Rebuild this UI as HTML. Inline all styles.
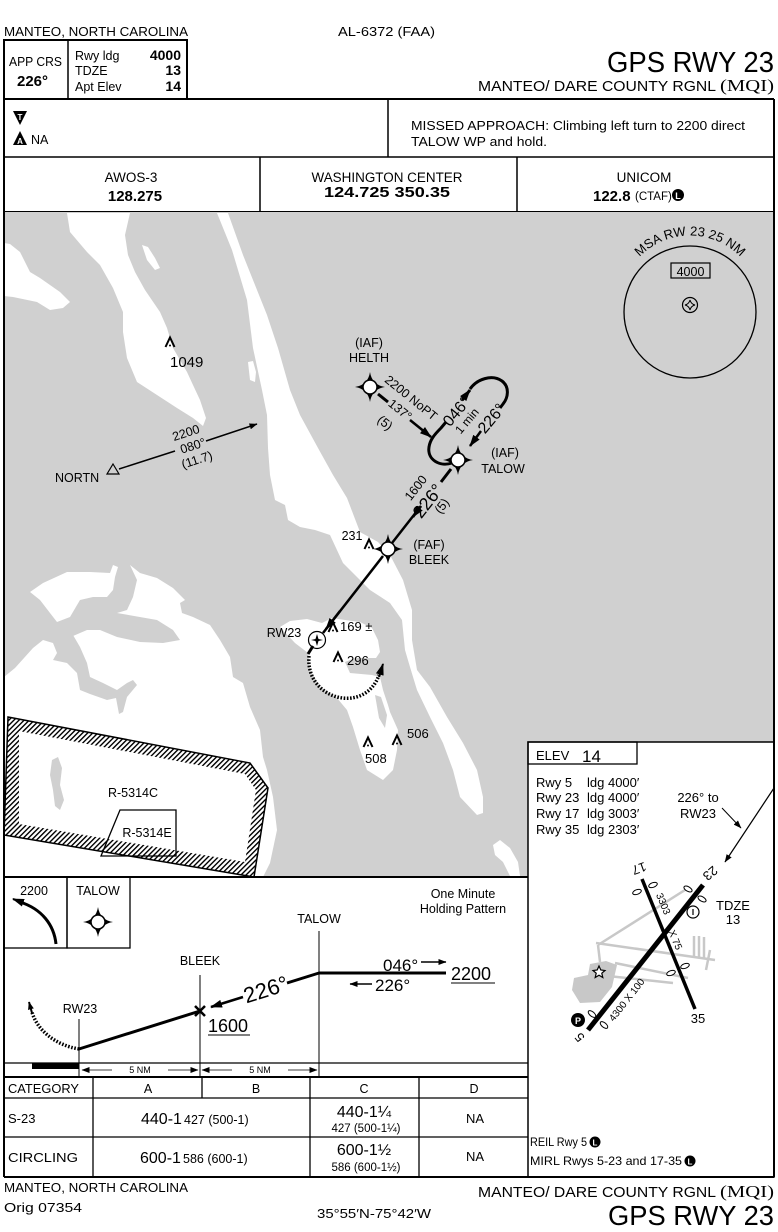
<!DOCTYPE html>
<html><head><meta charset="utf-8"><style>
html,body{margin:0;padding:0;background:#fff;}
svg{display:block;}
text{font-family:"Liberation Sans",sans-serif;fill:#000;}
</style></head><body>
<svg width="778" height="1232" viewBox="0 0 778 1232" xmlns="http://www.w3.org/2000/svg">
<defs>
<marker id="ah" markerUnits="userSpaceOnUse" markerWidth="12" markerHeight="8" refX="11" refY="4" orient="auto"><path d="M0,0 L12,4 L0,8 Z"/></marker>
<marker id="ahs" markerUnits="userSpaceOnUse" markerWidth="8" markerHeight="6" refX="7.5" refY="3" orient="auto"><path d="M0,0 L8,3 L0,6 Z"/></marker>
<pattern id="hatch" patternUnits="userSpaceOnUse" width="3.6" height="3.6" patternTransform="rotate(45)"><rect x="0" y="0" width="1.4" height="3.6" fill="#000"/></pattern>
<g id="fix"><path d="M0,-15 Q2,-2 15,0 Q2,2 0,15 Q-2,2 -15,0 Q-2,-2 0,-15Z"/><circle r="7" fill="#fff" stroke="#000" stroke-width="1.5"/></g>
<g id="obs"><path d="M-4.5,5 L0,-4.5 L4.5,5" fill="none" stroke="#000" stroke-width="2"/><circle cx="0" cy="3.5" r="1"/></g>
</defs>

<!-- HEADER -->
<text x="4" y="36" font-size="13" textLength="184" lengthAdjust="spacingAndGlyphs">MANTEO, NORTH CAROLINA</text>
<text x="338" y="36" font-size="13" textLength="97" lengthAdjust="spacingAndGlyphs">AL-6372 (FAA)</text>
<rect x="4" y="40" width="183" height="59" fill="none" stroke="#000" stroke-width="2"/>
<line x1="68" y1="40" x2="68" y2="99" stroke="#000" stroke-width="1.5"/>
<text x="9" y="66" font-size="12.5" textLength="53" lengthAdjust="spacingAndGlyphs">APP CRS</text>
<text x="17" y="86" font-size="15" font-weight="bold">226°</text>
<text x="75" y="60" font-size="12.5">Rwy ldg</text>
<text x="181" y="60" font-size="14" font-weight="bold" text-anchor="end">4000</text>
<text x="75" y="75" font-size="12.5">TDZE</text>
<text x="181" y="75" font-size="14" font-weight="bold" text-anchor="end">13</text>
<text x="75" y="91" font-size="12.5">Apt Elev</text>
<text x="181" y="91" font-size="14" font-weight="bold" text-anchor="end">14</text>
<text x="607" y="72" font-size="29" textLength="167" lengthAdjust="spacingAndGlyphs">GPS RWY 23</text>
<text x="478" y="91" font-size="15" textLength="238" lengthAdjust="spacingAndGlyphs">MANTEO/ DARE COUNTY RGNL</text>
<text x="720" y="91" font-size="17" style="font-family:'Liberation Serif',serif" textLength="54" lengthAdjust="spacingAndGlyphs">(MQI)</text>

<line x1="4" y1="99" x2="774" y2="99" stroke="#000" stroke-width="2"/>
<line x1="388" y1="99" x2="388" y2="157" stroke="#000" stroke-width="1.5"/>
<!-- T / A symbols -->
<path d="M13,111 L27,111 L20,125 Z"/>
<text x="20" y="120" font-size="8" font-weight="bold" text-anchor="middle" style="fill:#fff">T</text>
<path d="M13,145 L27,145 L20,131 Z"/>
<text x="20" y="144" font-size="8" font-weight="bold" text-anchor="middle" style="fill:#fff">A</text>
<text x="31" y="144" font-size="12.5">NA</text>
<text x="411" y="130" font-size="13" textLength="334" lengthAdjust="spacingAndGlyphs">MISSED APPROACH:  Climbing left turn to 2200 direct</text>
<text x="411" y="146" font-size="13" textLength="136" lengthAdjust="spacingAndGlyphs">TALOW WP and hold.</text>

<line x1="4" y1="157" x2="774" y2="157" stroke="#000" stroke-width="1.5"/>
<line x1="260" y1="157" x2="260" y2="212" stroke="#000" stroke-width="1.5"/>
<line x1="517" y1="157" x2="517" y2="212" stroke="#000" stroke-width="1.5"/>
<text x="131" y="182" font-size="13.5" text-anchor="middle">AWOS-3</text>
<text x="135" y="201" font-size="15" font-weight="bold" text-anchor="middle">128.275</text>
<text x="387" y="182" font-size="13.5" text-anchor="middle" textLength="151" lengthAdjust="spacingAndGlyphs">WASHINGTON CENTER</text>
<text x="387" y="197" font-size="15" font-weight="bold" text-anchor="middle" textLength="126" lengthAdjust="spacingAndGlyphs">124.725  350.35</text>
<text x="644" y="182" font-size="13.5" text-anchor="middle">UNICOM</text>
<text x="593" y="201" font-size="15" font-weight="bold">122.8</text>
<text x="635" y="200" font-size="11.5">(CTAF)</text>
<circle cx="678" cy="195" r="6"/>
<text x="678" y="199" font-size="9" font-weight="bold" text-anchor="middle" style="fill:#fff">L</text>
<line x1="4" y1="212" x2="774" y2="212" stroke="#000" stroke-width="2"/>

<!-- PLAN VIEW -->
<rect x="4" y="212" width="770" height="665" fill="#d0d0d0"/>
<g fill="#fff">
<polygon points="4,243 10,244 20,252 30,272 40,278 60,292 70,302 63,308 50,310 37,302 13,297 4,296"/>
<polygon points="67,213 70,232 87,252 100,265 113,288 123,312 123,332 127,358 137,382 157,395 177,408 193,418 203,426 206,418 200,400 193,385 187,372 173,348 167,328 160,312 145,290 135,272 128,255 125,235 130,213"/>
<polygon points="142,245 148,247 155,258 160,268 155,270 147,260"/>
<polygon points="248,362 253,361 256,372 255,382 250,380"/>
<polygon points="217,213 232,250 247,300 253,348 262,390 267,415 268,448 270,475 275,500 285,505 288,520 300,527 315,530 330,535 343,563 370,590 390,603 402,620 405,650 410,667 417,690 430,717 443,743 453,770 460,797 477,815 483,813 483,797 477,770 463,743 447,717 430,687 417,670 412,640 412,610 403,580 390,555 378,542 360,532 347,498 333,475 318,448 300,415 290,390 278,348 267,315 255,285 243,255 228,213"/>
<polygon points="280,627 290,621 307,619 322,623 332,618 345,620 360,622 372,628 378,640 380,652 376,658 355,658 345,662 350,673 372,675 380,677 383,690 388,705 390,712 398,730 397,750 393,770 383,780 367,770 360,750 353,727 347,710 337,698 320,687 310,670 308,653 295,643"/>
<polygon points="4,677 15,668 33,648 43,640 55,640 73,636 87,630 100,630 117,637 140,642 163,643 180,640 173,630 157,620 117,613 127,610 133,597 137,580 130,565 140,573 157,578 173,588 185,600 180,603 182,613 193,617 210,625 220,640 230,657 233,677 243,683 250,707 260,730 263,757 267,770 273,797 277,830 270,863 263,877 4,877"/>
<polygon points="30,592 43,583 67,572 90,572 110,573 113,565 118,567 115,577 113,590 107,597 93,597 80,600 70,617 57,622 50,613 40,600"/>
<polygon points="493,845 500,840 510,848 518,862 520,876 510,876 503,862 495,855"/>
</g>
<g fill="#d0d0d0">
<polygon points="43,640 73,635 80,647 87,663 90,677 103,683 117,690 127,683 133,680 137,685 127,697 123,712 119,714 116,698 107,700 90,694 80,690 77,673 67,663 53,660 57,653 53,643"/>
<polygon points="52,760 58,757 62,768 60,785 64,800 60,810 55,806 53,790 50,775"/>
<polygon points="375,695 381,697 387,715 385,728 379,718"/>
</g>

<!-- Restricted areas -->
<path d="M8,717 L250,763 L268,788 L254,877 L4,835 Z M19,731 L19,824 L245,862 L256,790 L245,774 Z" fill="url(#hatch)" fill-rule="evenodd"/>
<polygon points="8,717 250,763 268,788 254,877 4,835" fill="none" stroke="#000" stroke-width="1.5"/>
<polygon points="120,810 176,810 176,856 101,856" fill="none" stroke="#000" stroke-width="1.3"/>
<text x="133" y="797" font-size="12.5" text-anchor="middle">R-5314C</text>
<text x="147" y="837" font-size="12.5" text-anchor="middle">R-5314E</text>

<!-- MSA -->
<circle cx="690" cy="312" r="66" fill="none" stroke="#000" stroke-width="1.3"/>
<path id="msaarc" d="M627,275 A70,70 0 0,1 753,275" fill="none"/>
<text font-size="13"><textPath href="#msaarc" startOffset="50%" text-anchor="middle">MSA RW 23 25 NM</textPath></text>
<rect x="671" y="263" width="39" height="15" fill="none" stroke="#000" stroke-width="1.2"/>
<text x="690.5" y="276" font-size="12.5" text-anchor="middle">4000</text>
<circle cx="690" cy="305" r="7.5" fill="none" stroke="#000" stroke-width="1.2"/>
<path d="M690,300 Q691,304 695,305 Q691,306 690,310 Q689,306 685,305 Q689,304 690,300Z" fill="none" stroke="#000" stroke-width="1"/>

<!-- obstacles -->
<use href="#obs" x="170" y="342"/>
<text x="170" y="367" font-size="15">1049</text>
<use href="#obs" x="369" y="544"/>
<text x="352" y="540" font-size="12.5" text-anchor="middle">231</text>
<use href="#obs" x="333" y="627"/>
<text x="340" y="631" font-size="13">169 ±</text>
<use href="#obs" x="338" y="657"/>
<text x="347" y="665" font-size="13">296</text>
<use href="#obs" x="397" y="740"/>
<text x="407" y="738" font-size="13">506</text>
<use href="#obs" x="368" y="742"/>
<text x="365" y="763" font-size="13">508</text>

<!-- NORTN -->
<polygon points="113,464 119,474 107,474" fill="none" stroke="#000" stroke-width="1.2"/>
<text x="55" y="482" font-size="12.5">NORTN</text>
<line x1="119" y1="469" x2="175" y2="451" stroke="#000" stroke-width="1.5"/>
<line x1="206" y1="441" x2="257" y2="424" stroke="#000" stroke-width="1.5" marker-end="url(#ahs)"/>
<g font-size="12.5" text-anchor="middle">
<text x="186" y="437" transform="rotate(-18 186 433)">2200</text>
<text x="193" y="450" transform="rotate(-18 193 446)">080°</text>
<text x="197" y="464" transform="rotate(-18 197 460)">(11.7)</text>
</g>

<!-- HELTH -->
<text x="369" y="347" font-size="12.5" text-anchor="middle">(IAF)</text>
<text x="369" y="362" font-size="12.5" text-anchor="middle">HELTH</text>
<line x1="378" y1="394" x2="388" y2="402" stroke="#000" stroke-width="3"/>
<line x1="410" y1="420" x2="431" y2="437" stroke="#000" stroke-width="2.5" marker-end="url(#ah)"/>
<g font-size="12.5" text-anchor="middle">
<text x="411" y="402" transform="rotate(39 411 398)">2200 NoPT</text>
<text x="400" y="414" transform="rotate(39 400 410)">137°</text>
<text x="385" y="427" transform="rotate(39 385 423)">(5)</text>
</g>
<use href="#fix" x="370" y="387"/>

<!-- Holding -->
<path d="M452,463 C440,467 427,460 429,447 C430,440 434,435 441,428 L446,422" fill="none" stroke="#000" stroke-width="3"/>
<line x1="462" y1="400" x2="470" y2="390" stroke="#000" stroke-width="3" marker-end="url(#ah)"/>
<path d="M470,389 C477,379 492,374 502,381 C510,387 508,398 503,404 L500,408" fill="none" stroke="#000" stroke-width="3"/>
<line x1="481" y1="431" x2="470" y2="446" stroke="#000" stroke-width="2.5" marker-end="url(#ah)"/>
<text x="456" y="417" font-size="16" text-anchor="middle" transform="rotate(-50 456 411)">046°</text>
<text x="467" y="425" font-size="12" text-anchor="middle" transform="rotate(-50 467 421)">1 min</text>
<text x="491" y="424" font-size="16" text-anchor="middle" transform="rotate(-50 491 418)">226°</text>
<use href="#fix" x="458" y="460"/>
<text x="505" y="457" font-size="12.5" text-anchor="middle">(IAF)</text>
<text x="503" y="473" font-size="12.5" text-anchor="middle">TALOW</text>

<!-- Final approach -->
<line x1="451" y1="469" x2="441" y2="482" stroke="#000" stroke-width="3"/>
<line x1="421" y1="506" x2="392" y2="543" stroke="#000" stroke-width="2.5"/>
<line x1="421" y1="506" x2="413" y2="517" stroke="#000" stroke-width="2.5" marker-end="url(#ah)"/>
<text x="416" y="492" font-size="12.5" text-anchor="middle" transform="rotate(-52 416 488)">1600</text>
<text x="428" y="507" font-size="18" text-anchor="middle" transform="rotate(-52 428 501)">226°</text>
<text x="442" y="510" font-size="12.5" text-anchor="middle" transform="rotate(-52 442 506)">(5)</text>
<use href="#fix" x="388" y="549"/>
<text x="429" y="549" font-size="12.5" text-anchor="middle">(FAF)</text>
<text x="429" y="564" font-size="12.5" text-anchor="middle">BLEEK</text>
<line x1="383" y1="556" x2="323" y2="633" stroke="#000" stroke-width="2.5"/>
<line x1="340" y1="611" x2="326" y2="629" stroke="#000" stroke-width="2.5" marker-end="url(#ah)"/>
<circle cx="317" cy="640" r="8.5" fill="none" stroke="#000" stroke-width="1.2"/>
<path d="M317,634 L318.5,639 L323,640 L318.5,641 L317,646 L315.5,641 L311,640 L315.5,639Z"/>
<line x1="313" y1="646" x2="308" y2="654" stroke="#000" stroke-width="3"/>
<text x="284" y="637" font-size="12.5" text-anchor="middle">RW23</text>
<path d="M309,656 C305,700 365,715 379,675" fill="none" stroke="#000" stroke-width="3.5" stroke-dasharray="1.6,1.6"/>
<line x1="379" y1="677" x2="383" y2="664" stroke="#000" stroke-width="2" marker-end="url(#ah)"/>

<!-- PROFILE -->
<rect x="4" y="877" width="524" height="300" fill="#fff"/>
<line x1="4" y1="877" x2="528" y2="877" stroke="#000" stroke-width="2"/>
<rect x="4" y="877" width="63" height="71" fill="none" stroke="#000" stroke-width="1.3"/>
<rect x="67" y="877" width="63" height="71" fill="none" stroke="#000" stroke-width="1.3"/>
<text x="34" y="895" font-size="12.5" text-anchor="middle">2200</text>
<path d="M56,944 C54,925 42,909 20,902" fill="none" stroke="#000" stroke-width="3"/>
<line x1="24" y1="903" x2="13" y2="899" stroke="#000" stroke-width="2" marker-end="url(#ah)"/>
<text x="98" y="895" font-size="12.5" text-anchor="middle">TALOW</text>
<use href="#fix" x="98" y="922"/>
<text x="463" y="898" font-size="12.5" text-anchor="middle">One Minute</text>
<text x="463" y="913" font-size="12.5" text-anchor="middle">Holding Pattern</text>
<line x1="319" y1="931" x2="319" y2="1077" stroke="#000" stroke-width="1"/>
<text x="319" y="923" font-size="12.5" text-anchor="middle">TALOW</text>
<line x1="200" y1="975" x2="200" y2="1077" stroke="#000" stroke-width="1"/>
<text x="200" y="965" font-size="12.5" text-anchor="middle">BLEEK</text>
<line x1="79" y1="1019" x2="79" y2="1077" stroke="#000" stroke-width="1"/>
<text x="80" y="1013" font-size="12.5" text-anchor="middle">RW23</text>
<line x1="319" y1="973" x2="446" y2="973" stroke="#000" stroke-width="3"/>
<line x1="287" y1="983" x2="319" y2="973" stroke="#000" stroke-width="3"/>
<line x1="79" y1="1049" x2="200" y2="1011" stroke="#000" stroke-width="3"/>
<line x1="243" y1="997" x2="211" y2="1007" stroke="#000" stroke-width="2.5" marker-end="url(#ah)"/>
<text x="266" y="997" font-size="22" text-anchor="middle" transform="rotate(-17.6 266 990)">226°</text>
<path d="M195,1006 L205,1016 M205,1006 L195,1016" stroke="#000" stroke-width="2.5"/>
<text x="208" y="1032" font-size="18">1600</text>
<line x1="208" y1="1035" x2="250" y2="1035" stroke="#000" stroke-width="1"/>
<text x="383" y="971" font-size="17">046°</text>
<line x1="421" y1="962" x2="446" y2="962" stroke="#000" stroke-width="1.5" marker-end="url(#ahs)"/>
<text x="451" y="980" font-size="18">2200</text>
<line x1="451" y1="983" x2="495" y2="983" stroke="#000" stroke-width="1"/>
<line x1="372" y1="984" x2="350" y2="984" stroke="#000" stroke-width="1.5" marker-end="url(#ahs)"/>
<text x="375" y="991" font-size="17">226°</text>
<path d="M79,1049 C55,1045 37,1030 32,1012" fill="none" stroke="#000" stroke-width="3.5" stroke-dasharray="1.6,1.6"/>
<line x1="32" y1="1013" x2="29" y2="1002" stroke="#000" stroke-width="2" marker-end="url(#ahs)"/>
<line x1="4" y1="1063" x2="528" y2="1063" stroke="#000" stroke-width="1.2"/>
<rect x="32" y="1063" width="47" height="6" fill="#000"/>
<line x1="112" y1="1070" x2="82" y2="1070" stroke="#000" stroke-width="0.8" marker-end="url(#ahs)"/>
<line x1="168" y1="1070" x2="198" y2="1070" stroke="#000" stroke-width="0.8" marker-end="url(#ahs)"/>
<text x="140" y="1073" font-size="9" text-anchor="middle">5 NM</text>
<line x1="232" y1="1070" x2="202" y2="1070" stroke="#000" stroke-width="0.8" marker-end="url(#ahs)"/>
<line x1="288" y1="1070" x2="317" y2="1070" stroke="#000" stroke-width="0.8" marker-end="url(#ahs)"/>
<text x="260" y="1073" font-size="9" text-anchor="middle">5 NM</text>
<line x1="4" y1="1077" x2="528" y2="1077" stroke="#000" stroke-width="2"/>

<!-- TABLE -->
<line x1="4" y1="1098" x2="528" y2="1098" stroke="#000" stroke-width="1.3"/>
<line x1="4" y1="1137" x2="528" y2="1137" stroke="#000" stroke-width="1.3"/>
<line x1="93" y1="1077" x2="93" y2="1177" stroke="#000" stroke-width="1.3"/>
<line x1="202" y1="1077" x2="202" y2="1098" stroke="#000" stroke-width="1.3"/>
<line x1="310" y1="1077" x2="310" y2="1177" stroke="#000" stroke-width="1.3"/>
<line x1="419" y1="1077" x2="419" y2="1177" stroke="#000" stroke-width="1.3"/>
<text x="8" y="1093" font-size="12.5" textLength="71" lengthAdjust="spacingAndGlyphs">CATEGORY</text>
<text x="148" y="1093" font-size="12.5" text-anchor="middle">A</text>
<text x="256" y="1093" font-size="12.5" text-anchor="middle">B</text>
<text x="364" y="1093" font-size="12.5" text-anchor="middle">C</text>
<text x="474" y="1093" font-size="12.5" text-anchor="middle">D</text>
<text x="8" y="1123" font-size="13">S-23</text>
<text x="141" y="1124" font-size="16">440-1</text>
<text x="184" y="1124" font-size="12.5">427 (500-1)</text>
<text x="364" y="1117" font-size="16" text-anchor="middle">440-1¼</text>
<text x="366" y="1132" font-size="11.5" text-anchor="middle">427 (500-1¼)</text>
<text x="475" y="1123" font-size="13" text-anchor="middle">NA</text>
<text x="8" y="1162" font-size="13" textLength="70" lengthAdjust="spacingAndGlyphs">CIRCLING</text>
<text x="140" y="1163" font-size="16">600-1</text>
<text x="183" y="1163" font-size="12.5">586 (600-1)</text>
<text x="364" y="1155" font-size="16" text-anchor="middle">600-1½</text>
<text x="366" y="1171" font-size="11.5" text-anchor="middle">586 (600-1½)</text>
<text x="475" y="1161" font-size="13" text-anchor="middle">NA</text>

<!-- AIRPORT DIAGRAM -->
<rect x="528" y="742" width="246" height="435" fill="#fff" stroke="#000" stroke-width="1.5"/>
<rect x="528" y="742" width="109" height="22" fill="none" stroke="#000" stroke-width="1.3"/>
<text x="536" y="760" font-size="13">ELEV</text>
<text x="582" y="762" font-size="17">14</text>
<g font-size="13">
<text x="536" y="787">Rwy 5</text><text x="587" y="787">ldg 4000′</text>
<text x="536" y="802">Rwy 23</text><text x="587" y="802">ldg 4000′</text>
<text x="536" y="818">Rwy 17</text><text x="587" y="818">ldg 3003′</text>
<text x="536" y="834">Rwy 35</text><text x="587" y="834">ldg 2303′</text>
<text x="698" y="802" text-anchor="middle">226° to</text>
<text x="698" y="818" text-anchor="middle">RW23</text>
<text x="733" y="910" text-anchor="middle">TDZE</text>
<text x="733" y="924" text-anchor="middle">13</text>
</g>
<line x1="774" y1="788" x2="725" y2="862" stroke="#000" stroke-width="1.2" marker-end="url(#ahs)"/>
<line x1="722" y1="808" x2="741" y2="828" stroke="#000" stroke-width="1" marker-end="url(#ahs)"/>
<!-- taxiways -->
<g stroke="#c8c8c8" stroke-width="2.5" fill="none">
<line x1="598" y1="945" x2="685" y2="890"/>
<line x1="596" y1="943" x2="715" y2="960"/>
<line x1="598" y1="945" x2="600" y2="962"/>
<line x1="608" y1="976" x2="673" y2="983"/>
<line x1="615" y1="963" x2="688" y2="978"/>
<line x1="694" y1="936" x2="694" y2="956"/>
<line x1="699" y1="936" x2="699" y2="957"/>
<line x1="704" y1="937" x2="704" y2="958"/>
<line x1="710" y1="950" x2="706" y2="970"/>
</g>
<polygon points="572,990 574,978 588,975 590,964 606,961 617,965 612,987 600,1002 580,1003" fill="#c8c8c8"/>
<line x1="588" y1="1030" x2="703" y2="885" stroke="#000" stroke-width="5"/>
<line x1="642" y1="879" x2="695" y2="1009" stroke="#000" stroke-width="3.5"/>
<g fill="#fff" stroke="#000" stroke-width="1">
<ellipse cx="637" cy="892" rx="4.5" ry="2.3" transform="rotate(-20 637 892)"/>
<ellipse cx="653" cy="885" rx="4.5" ry="2.3" transform="rotate(-20 653 885)"/>
<ellipse cx="688" cy="889" rx="4.5" ry="2.3" transform="rotate(30 688 889)"/>
<ellipse cx="702" cy="899" rx="4.5" ry="2.3" transform="rotate(30 702 899)"/>
<ellipse cx="671" cy="973" rx="4.5" ry="2.3" transform="rotate(-20 671 973)"/>
<ellipse cx="685" cy="966" rx="4.5" ry="2.3" transform="rotate(-20 685 966)"/>
<ellipse cx="592" cy="1014" rx="4.5" ry="2.3" transform="rotate(40 592 1014)"/>
<ellipse cx="604" cy="1025" rx="4.5" ry="2.3" transform="rotate(40 604 1025)"/>
</g>
<circle cx="693" cy="912" r="6" fill="#fff" stroke="#000" stroke-width="1.2"/>
<line x1="693" y1="909" x2="693" y2="915" stroke="#000" stroke-width="1.2"/>
<circle cx="578" cy="1020" r="7"/>
<text x="578" y="1024" font-size="9" font-weight="bold" text-anchor="middle" style="fill:#fff">P</text>
<path d="M599,966 L600.8,970 L605,970.5 L601.8,973.2 L602.8,977.5 L599,975.2 L595.2,977.5 L596.2,973.2 L593,970.5 L597.2,970Z" fill="#fff" stroke="#000" stroke-width="1.2"/>
<text x="710" y="877" font-size="13" text-anchor="middle" transform="rotate(140 710 873)">23</text>
<text x="639" y="872" font-size="13" text-anchor="middle" transform="rotate(160 639 868)">17</text>
<text x="580" y="1041" font-size="13" text-anchor="middle" transform="rotate(-130 580 1037)">5</text>
<text x="698" y="1023" font-size="13" text-anchor="middle">35</text>
<text x="663" y="907" font-size="10" text-anchor="middle" transform="rotate(67 663 904)">3303</text>
<text x="675" y="943" font-size="10" text-anchor="middle" transform="rotate(67 675 940)">X 75</text>
<text x="627" y="1003" font-size="10" text-anchor="middle" transform="rotate(-52 627 1000)">4300 X 100</text>
<text x="530" y="1146" font-size="12" textLength="57" lengthAdjust="spacingAndGlyphs">REIL Rwy 5</text>
<circle cx="595" cy="1142" r="5.5"/>
<text x="595" y="1145.5" font-size="8" font-weight="bold" text-anchor="middle" style="fill:#fff">L</text>
<text x="530" y="1165" font-size="12" textLength="152" lengthAdjust="spacingAndGlyphs">MIRL Rwys 5-23 and 17-35</text>
<circle cx="690" cy="1161" r="5.5"/>
<text x="690" y="1164.5" font-size="8" font-weight="bold" text-anchor="middle" style="fill:#fff">L</text>

<!-- frame -->
<line x1="4" y1="99" x2="4" y2="1177" stroke="#000" stroke-width="2"/>
<line x1="774" y1="99" x2="774" y2="1177" stroke="#000" stroke-width="2"/>
<line x1="4" y1="1177" x2="774" y2="1177" stroke="#000" stroke-width="2"/>

<!-- FOOTER -->
<text x="4" y="1192" font-size="13" textLength="184" lengthAdjust="spacingAndGlyphs">MANTEO, NORTH CAROLINA</text>
<text x="4" y="1212" font-size="13" textLength="78" lengthAdjust="spacingAndGlyphs">Orig  07354</text>
<text x="317" y="1218" font-size="12.5" textLength="114" lengthAdjust="spacingAndGlyphs">35°55′N-75°42′W</text>
<text x="478" y="1197" font-size="15" textLength="238" lengthAdjust="spacingAndGlyphs">MANTEO/ DARE COUNTY RGNL</text>
<text x="720" y="1197" font-size="17" style="font-family:'Liberation Serif',serif" textLength="54" lengthAdjust="spacingAndGlyphs">(MQI)</text>
<text x="608" y="1225" font-size="28" textLength="166" lengthAdjust="spacingAndGlyphs">GPS RWY 23</text>
</svg>
</body></html>
